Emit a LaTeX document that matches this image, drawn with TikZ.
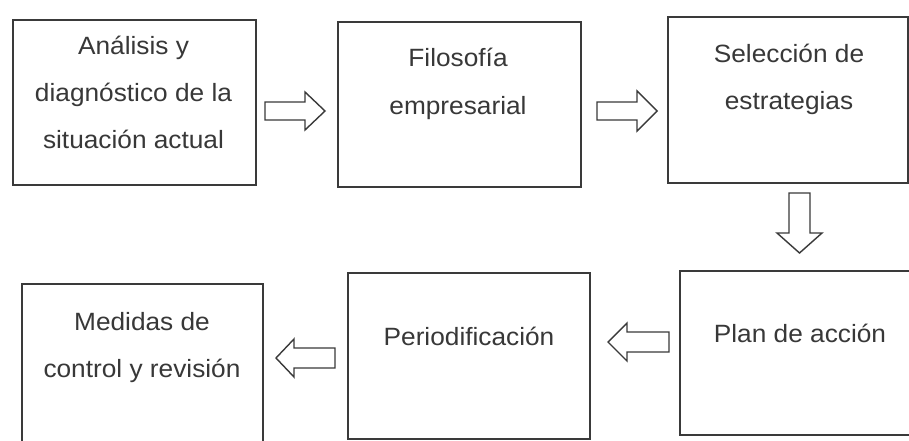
\documentclass[tikz,border=0pt]{standalone}
\usepackage{fontspec}
\setmainfont{Liberation Sans}[FakeStretch=1.05]
\definecolor{linegray}{HTML}{3A3A3A}
\definecolor{textgray}{HTML}{383838}
\begin{document}
\begin{tikzpicture}[x=1pt,y=-1pt,
  box/.style={draw=linegray, line width=1.8pt, fill=white, inner sep=0pt, anchor=north west},
  txt/.style={text=textgray, anchor=base, inner sep=0pt, font=\fontsize{25}{30}\selectfont},
  blockarrow/.style={draw=linegray, line width=1.4pt, line join=miter, fill=white}]
\useasboundingbox (0,0) rectangle (909,441);
\clip (0,0) rectangle (909,441);
\fill[white] (0,0) rectangle (909,441);
% boxes
\node[box, minimum width=243pt, minimum height=165pt] (b1) at (12,19) {};
\node[box, minimum width=243pt, minimum height=165pt] (b2) at (337,21) {};
\node[box, minimum width=240pt, minimum height=166pt] (b3) at (667,16) {};
\node[box, minimum width=241pt, minimum height=175pt] (b4) at (21,283) {};
\node[box, minimum width=242pt, minimum height=166pt] (b5) at (347,272) {};
\node[box, minimum width=242pt, minimum height=164pt] (b6) at (679,270) {};
% texts
\node[txt] (t1a) at (133.5,55) {Análisis y};
\node[txt] (t1b) at (133.5,102) {diagnóstico de la};
\node[txt] (t1c) at (133.5,148) {situación actual};
\node[txt] (t2a) at (458,67) {Filosofía};
\node[txt] (t2b) at (458,114) {empresarial};
\node[txt] (t3a) at (789,63) {Selección de};
\node[txt] (t3b) at (789,110) {estrategias};
\node[txt] (t4a) at (142,330) {Medidas de};
\node[txt] (t4b) at (142,377) {control y revisión};
\node[txt] (t5) at (469,345) {Periodificación};
\node[txt] (t6) at (800,342) {Plan de acción};
% block arrows
\coordinate (a1) at (265,111);
\coordinate (a2) at (597,111);
\coordinate (a3) at (799.5,193);
\coordinate (a4) at (669,342);
\coordinate (a5) at (335,358);
\draw[blockarrow] (a1) ++(0,-9) -- ++(40,0) -- ++(0,-10) -- ++(20,19) -- ++(-20,19) -- ++(0,-10) -- ++(-40,0) -- cycle;
\draw[blockarrow] (a2) ++(0,-9) -- ++(40,0) -- ++(0,-11) -- ++(20,20) -- ++(-20,20) -- ++(0,-11) -- ++(-40,0) -- cycle;
\draw[blockarrow] (a3) ++(-10.5,0) -- ++(21,0) -- ++(0,40) -- ++(12,0) -- ++(-22.5,20) -- ++(-22.5,-20) -- ++(12,0) -- cycle;
\draw[blockarrow] (a4) ++(0,-10) -- ++(-42,0) -- ++(0,-9) -- ++(-19,19) -- ++(19,19) -- ++(0,-9) -- ++(42,0) -- cycle;
\draw[blockarrow] (a5) ++(0,-10) -- ++(-41,0) -- ++(0,-9) -- ++(-18,19) -- ++(18,19) -- ++(0,-9) -- ++(41,0) -- cycle;
\end{tikzpicture}
\end{document}
